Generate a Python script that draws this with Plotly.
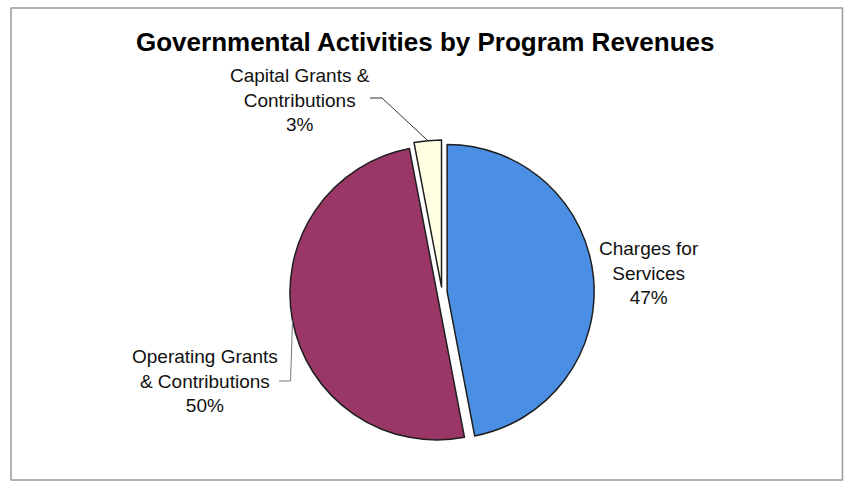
import math
import plotly.graph_objects as go

# Program revenue shares (percent)
categories = ["Charges for Services", "Operating Grants & Contributions", "Capital Grants & Contributions"]
shares = [47, 50, 3]
slice_colors = ["#4A8FE3", "#9A3766", "#FFFFE4"]
label_texts = ["Charges for<br>Services<br>47%",
               "Operating Grants<br>& Contributions<br>50%",
               "Capital Grants &<br>Contributions<br>3%"]

W, H = 844, 482
PULL = 0.035

# Pie placement in pixels
CX, CY, R = 442, 292, 147
half = R * (1 + PULL)
dom_x = [(CX - half) / W, (CX + half) / W]
dom_y = [1 - (CY + half) / H, 1 - (CY - half) / H]

fig = go.Figure(go.Pie(
    labels=categories,
    values=shares,
    sort=False,
    direction="clockwise",
    rotation=0,
    pull=[PULL] * len(shares),
    marker=dict(colors=slice_colors, line=dict(color="#1e1e1e", width=1.5)),
    textinfo="none",
    hoverinfo="label+percent",
    domain=dict(x=dom_x, y=dom_y),
    showlegend=False,
))


def px(x, y):
    return x / W, 1 - y / H


def edge_point(idx):
    """Outer edge of a pulled slice at its mid-angle (screen pixels)."""
    total = sum(shares)
    start = sum(shares[:idx]) / total * 360
    mid = math.radians(start + shares[idx] / total * 180)
    dist = R * (1 + PULL)
    return CX + dist * math.sin(mid), CY - dist * math.cos(mid)


# Label text centres (pixels)
label_pos = [(649, 273), (205, 381), (300, 100)]
font = dict(family="Liberation Sans, Arial, sans-serif", size=19, color="#111111")
for txt, (lx, ly) in zip(label_texts, label_pos):
    x, y = px(lx, ly)
    fig.add_annotation(x=x, y=y, xref="paper", yref="paper", text=txt,
                       xanchor="center", yanchor="middle",
                       showarrow=False, font=font, align="center")

# Leader lines
shapes = []
tx, ty = edge_point(2)
pts = [(370, 98), (382, 98), (tx, ty)]
path = "M " + " L ".join(f"{px(a, b)[0]},{px(a, b)[1]}" for a, b in pts)
shapes.append(dict(type="path", path=path, xref="paper", yref="paper",
                   line=dict(color="#333333", width=1)))
tx, ty = edge_point(1)
pts = [(279, 381), (tx - 2, 381), (tx, ty)]
path = "M " + " L ".join(f"{px(a, b)[0]},{px(a, b)[1]}" for a, b in pts)
shapes.append(dict(type="path", path=path, xref="paper", yref="paper",
                   line=dict(color="#777777", width=1)))

# Chart frame
x0, y0 = px(11, 8)
x1, y1 = px(842.5, 480)
shapes.append(dict(type="rect", xref="paper", yref="paper", x0=x0, y0=y1, x1=x1, y1=y0,
                   line=dict(color="#9a9a9a", width=1.5), fillcolor="rgba(0,0,0,0)"))

tx, ty = px(425, 42)
fig.add_annotation(x=tx, y=ty, xref="paper", yref="paper",
                   text="<b>Governmental Activities by Program Revenues</b>",
                   xanchor="center", yanchor="middle",
                   showarrow=False,
                   font=dict(family="Liberation Sans, Arial, sans-serif", size=26, color="#000000"))

fig.update_layout(
    width=W, height=H,
    margin=dict(l=0, r=0, t=0, b=0),
    paper_bgcolor="white",
    plot_bgcolor="white",
    shapes=shapes,
)

fig.write_html("out.html")
